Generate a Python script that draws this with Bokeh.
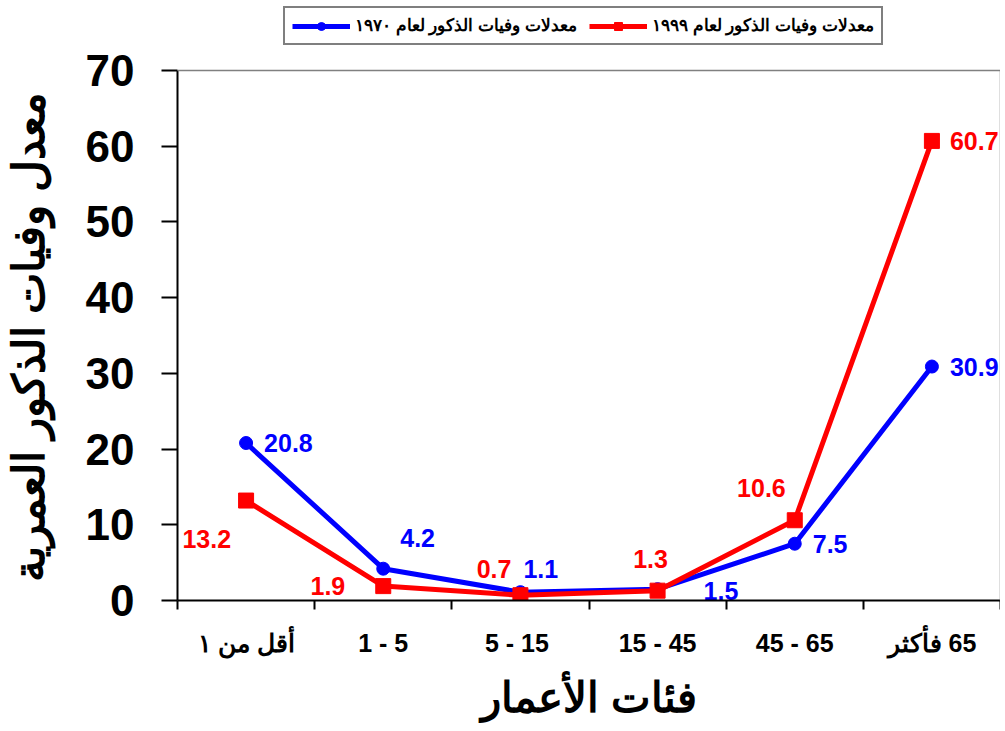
from bokeh.plotting import figure
from bokeh.models import (Range1d, FixedTicker, ColumnDataSource, Legend, LegendItem,
                          LinearAxis, Span)
from bokeh.core.properties import value
from bokeh.embed import file_html
from bokeh.resources import INLINE

# ---- data ----
categories = ["أقل من ١", "1 - 5", "5  - 15", "15 - 45", "45 - 65", "\u200f65 فأكثر"]
rates_1970 = [20.8, 4.2, 1.1, 1.5, 7.5, 30.9]
rates_1999 = [13.2, 1.9, 0.7, 1.3, 10.6, 60.7]
name_1970 = "معدلات وفيات الذكور لعام ١٩٧٠"
name_1999 = "معدلات وفيات الذكور لعام ١٩٩٩"
y_title = "معدل وفيات الذكور العمرية"
x_title = "فئات الأعمار"
y_ticks = [0, 10, 20, 30, 40, 50, 60, 70]
y_min, y_max = 0, 70

# ---- label styling (pixel offsets, alignment) ----
off_1970_x = [18, 17, 3, 46, 18, 18]
off_1970_y = [0, -31, -23, 2, 0, 0]
align_1970 = ["left"] * 6
off_1999_x = [-15, -38, -9, -7, -9, 18]
off_1999_y = [38, 0, -26, -32, -32, 0]
align_1999 = ["right", "right", "right", "center", "right", "left"]

FONT = "Liberation Sans"
BLUE = "#0000FF"
RED = "#FF0000"
GRAY = "#808080"

# layout (pixels): axis area 530 px tall, legend strip 70 px above it
AXIS_H = 530
TOP_H = 70
FRAME_H = AXIS_H + TOP_H

xs = [i + 0.5 for i in range(len(categories))]

p = figure(output_backend="svg", toolbar_location=None,
           x_range=Range1d(0, len(categories)),
           y_range=Range1d(y_min, y_max * FRAME_H / AXIS_H),
           min_border_left=177, min_border_right=0, min_border_top=0, min_border_bottom=131,
           frame_width=823, frame_height=FRAME_H)
p.grid.visible = False
p.outline_line_color = None
p.background_fill_color = "white"
p.border_fill_color = "white"

src70 = ColumnDataSource(dict(x=xs, y=rates_1970, t=[str(v) for v in rates_1970],
                              ox=off_1970_x, oy=off_1970_y, al=align_1970))
src99 = ColumnDataSource(dict(x=xs, y=rates_1999, t=[str(v) for v in rates_1999],
                              ox=off_1999_x, oy=off_1999_y, al=align_1999))

# top border of the plot area (gray)
p.add_layout(Span(location=y_max, dimension="width", line_color=GRAY, line_width=1.5))

l70 = p.line("x", "y", source=src70, line_color=BLUE, line_width=5)
m70 = p.scatter("x", "y", source=src70, marker="circle", size=13, fill_color=BLUE, line_color=BLUE)
l99 = p.line("x", "y", source=src99, line_color=RED, line_width=5)
m99 = p.scatter("x", "y", source=src99, marker="square", size=15, fill_color=RED, line_color=RED)

p.text("x", "y", text="t", source=src70, x_offset="ox", y_offset="oy", text_align="al",
       text_baseline="middle", text_color=BLUE, text_font=value(FONT),
       text_font_size="25px", text_font_style="bold")
p.text("x", "y", text="t", source=src99, x_offset="ox", y_offset="oy", text_align="al",
       text_baseline="middle", text_color=RED, text_font=value(FONT),
       text_font_size="25px", text_font_style="bold")

# x axis: labels at category centres, tick marks at boundaries
xa = p.xaxis[0]
xa.ticker = FixedTicker(ticks=xs, minor_ticks=list(range(len(categories) + 1)))
xa.major_label_overrides = {x: c for x, c in zip(xs, categories)}
xa.major_tick_line_color = None
xa.minor_tick_out = 9
xa.minor_tick_in = 0
xa.minor_tick_line_width = 2
xa.minor_tick_line_color = "black"
xa.axis_line_width = 2
xa.axis_line_color = "black"
xa.major_label_text_font = FONT
xa.major_label_text_font_size = "25px"
xa.major_label_text_font_style = "bold"
xa.major_label_text_color = "black"
xa.major_label_standoff = 19
xa.axis_label = x_title
xa.axis_label_text_font = FONT
xa.axis_label_text_font_size = "42px"
xa.axis_label_text_font_style = "bold"
xa.axis_label_text_color = "black"
xa.axis_label_standoff = 14

ya = p.yaxis[0]
ya.bounds = (y_min, y_max)
ya.ticker = FixedTicker(ticks=y_ticks, minor_ticks=[])
ya.major_tick_out = 16
ya.major_tick_in = 0
ya.major_tick_line_width = 2
ya.axis_line_width = 2
ya.axis_line_color = "black"
ya.major_label_text_font = FONT
ya.major_label_text_font_size = "44px"
ya.major_label_text_font_style = "bold"
ya.major_label_text_color = "black"
ya.major_label_standoff = 27
# trailing no-break spaces pad the title so it sits centred on the 0-70 span
ya.axis_label = y_title + "\u00a0" * 6
ya.axis_label_text_font = FONT
ya.axis_label_text_font_size = "44px"
ya.axis_label_text_font_style = "bold"
ya.axis_label_text_color = "black"
ya.axis_label_standoff = 30

# right border of the plot area (gray), only over the value range
ra = LinearAxis(bounds=(y_min, y_max), ticker=FixedTicker(ticks=[], minor_ticks=[]),
                axis_line_color=GRAY, axis_line_width=1.5,
                major_tick_line_color=None, minor_tick_line_color=None,
                major_label_text_font_size="0px")
p.add_layout(ra, "right")

legend = Legend(items=[LegendItem(label=name_1970, renderers=[l70, m70]),
                       LegendItem(label=name_1999, renderers=[l99, m99])],
                orientation="horizontal", location=(106, FRAME_H - 45),
                border_line_color="black", border_line_width=2,
                label_text_font=FONT, label_text_font_size="17px",
                label_text_font_style="bold", label_text_color="black",
                glyph_width=58, glyph_height=20, label_standoff=5, spacing=12,
                padding=7, margin=0, background_fill_alpha=1.0)
p.add_layout(legend, "center")

open("out.html", "w").write(file_html(p, INLINE))
